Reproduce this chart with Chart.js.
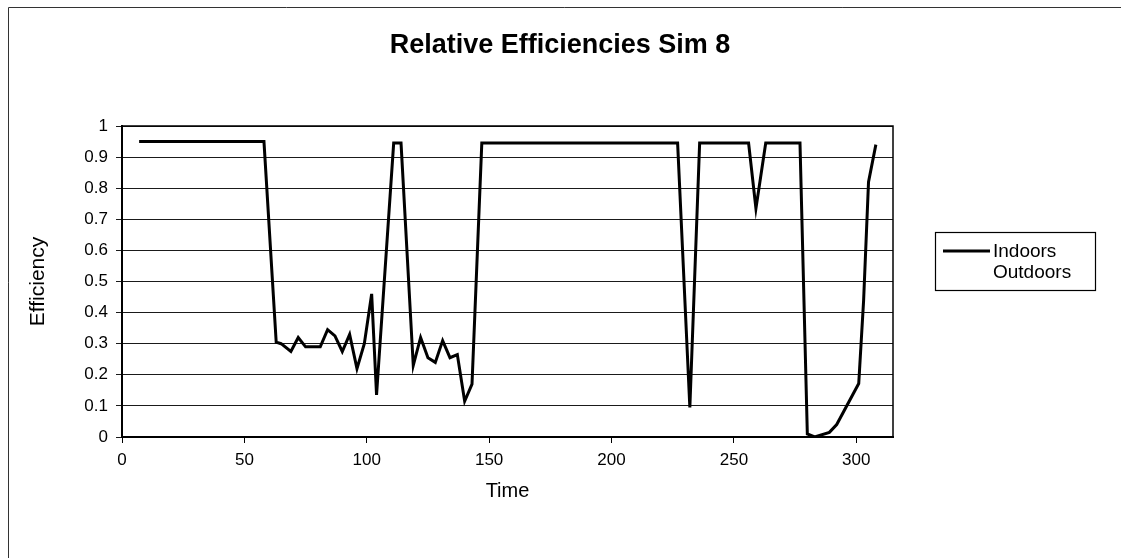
<!DOCTYPE html>
<html>
<head>
<meta charset="utf-8">
<script src="https://cdn.jsdelivr.net/npm/chart.js@4/dist/chart.umd.min.js"></script>
<style>
  html, body { margin: 0; padding: 0; background: #fff; }
  #wrap { width: 1121px; height: 558px; position: relative; }
</style>
</head>
<body>
<div id="wrap"><canvas id="c" width="1121" height="558"></canvas></div>
<script>
const chartTitle = 'Relative Efficiencies Sim 8';
const xTitle = 'Time';
const yTitle = 'Efficiency';
const seriesNames = ['Indoors', 'Outdoors'];

// Indoors efficiency samples over time
const indoorTime = [7, 58, 63, 65, 69, 72, 75, 77, 81, 84, 87, 90, 93, 96, 99, 102, 104,
  111, 114, 119, 122, 125, 128, 131, 134, 137, 140, 143, 147,
  227, 232, 236, 256, 259, 263, 277, 280, 283, 289, 292, 301, 303, 305, 308];
const indoorEff = [0.95, 0.95, 0.305, 0.30, 0.275, 0.32, 0.29, 0.29, 0.29, 0.345, 0.325, 0.275, 0.33, 0.22, 0.30, 0.46, 0.135,
  0.945, 0.945, 0.23, 0.32, 0.255, 0.24, 0.31, 0.255, 0.265, 0.115, 0.17, 0.945,
  0.945, 0.095, 0.945, 0.945, 0.735, 0.945, 0.945, 0.01, 0.0, 0.015, 0.04, 0.172, 0.44, 0.82, 0.94];

// Outdoors series is drawn in white
const outdoorTime = [];
const outdoorEff = [];

const xTicks = [0, 50, 100, 150, 200, 250, 300];
const yTicks = [0, 0.1, 0.2, 0.3, 0.4, 0.5, 0.6, 0.7, 0.8, 0.9, 1];

const FONT = "'Liberation Sans', Arial, Helvetica, sans-serif";
const toPoints = (xs, ys) => xs.map((x, i) => ({ x: x, y: ys[i] }));

const decor = {
  id: 'decor',
  afterDraw(chart) {
    const ctx = chart.ctx;
    const a = chart.chartArea;
    ctx.save();
    // outer frame
    ctx.strokeStyle = '#333';
    ctx.lineWidth = 1;
    ctx.beginPath();
    ctx.moveTo(8.5, 558);
    ctx.lineTo(8.5, 7.5);
    ctx.lineTo(1121, 7.5);
    ctx.stroke();
    // plot frame
    ctx.strokeStyle = '#000';
    ctx.lineWidth = 1.5;
    ctx.strokeRect(a.left, a.top, a.right - a.left, a.bottom - a.top);
    // title
    ctx.fillStyle = '#000';
    ctx.font = 'bold 27px ' + FONT;
    ctx.textAlign = 'center';
    ctx.textBaseline = 'middle';
    ctx.fillText(chartTitle, 560, 46);
    // legend
    const lx = 935, ly = 232, lw = 160, lh = 58;
    ctx.lineWidth = 1.2;
    ctx.strokeStyle = '#000';
    ctx.strokeRect(lx + 0.5, ly + 0.5, lw, lh);
    ctx.font = '19px ' + FONT;
    ctx.textAlign = 'left';
    chart.data.datasets.forEach((ds, i) => {
      const y = ly + 19 + i * 21;
      ctx.strokeStyle = ds.borderColor;
      ctx.lineWidth = 3;
      ctx.beginPath();
      ctx.moveTo(lx + 8, y);
      ctx.lineTo(lx + 55, y);
      ctx.stroke();
      ctx.fillStyle = '#000';
      ctx.fillText(ds.label, lx + 58, y + 1);
    });
    ctx.restore();
  }
};

new Chart(document.getElementById('c'), {
  type: 'line',
  data: {
    datasets: [
      { label: seriesNames[0], data: toPoints(indoorTime, indoorEff), borderColor: '#000', borderWidth: 3,
        pointRadius: 0, tension: 0, fill: false },
      { label: seriesNames[1], data: toPoints(outdoorTime, outdoorEff), borderColor: '#fff', borderWidth: 3,
        pointRadius: 0, tension: 0, fill: false }
    ]
  },
  options: {
    responsive: false,
    animation: false,
    devicePixelRatio: 1,
    layout: { padding: { left: 0, right: 228, top: 126, bottom: 0 } },
    plugins: { legend: { display: false }, title: { display: false }, tooltip: { enabled: false } },
    scales: {
      x: {
        type: 'linear',
        min: 0,
        max: 315,
        afterFit(s) { s.height = 121; },
        afterBuildTicks(s) { s.ticks = xTicks.map(v => ({ value: v })); },
        grid: { drawOnChartArea: false, drawTicks: true, tickLength: 6, color: '#000', lineWidth: 1 },
        border: { color: '#000', width: 2 },
        ticks: { color: '#000', font: { family: FONT, size: 17 }, padding: 7, maxRotation: 0 },
        title: { display: true, text: xTitle, color: '#000', font: { family: FONT, size: 20 }, padding: { top: 0, bottom: 55 } }
      },
      y: {
        min: 0,
        max: 1,
        afterFit(s) { s.width = 122; },
        afterBuildTicks(s) { s.ticks = yTicks.map(v => ({ value: v })); },
        grid: { drawTicks: true, tickLength: 6, color: '#1a1a1a', lineWidth: 1 },
        border: { color: '#000', width: 2 },
        ticks: { color: '#000', font: { family: FONT, size: 17 }, padding: 8,
          callback: v => String(Math.round(v * 10) / 10) },
        title: { display: true, text: yTitle, color: '#000', font: { family: FONT, size: 21 }, padding: { top: 26, bottom: 0 } }
      }
    }
  },
  plugins: [decor]
});
</script>
</body>
</html>
